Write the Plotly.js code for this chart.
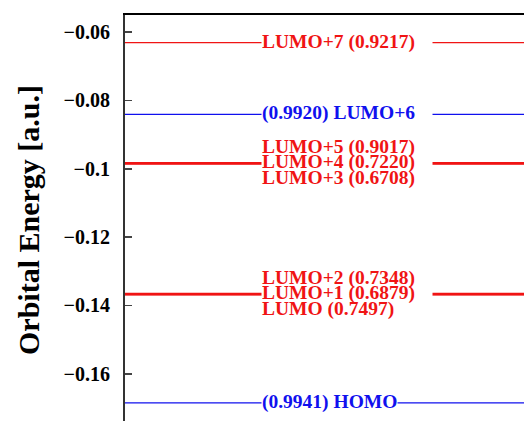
<!DOCTYPE html>
<html>
<head>
<meta charset="utf-8">
<script src="https://cdn.plot.ly/plotly-3.0.1.min.js"></script>
<style>
html,body{margin:0;padding:0;overflow:hidden;background:#fff;}
#chart{width:600px;height:425px;}
</style>
</head>
<body>
<div id="chart"></div>
<script>
// ---- data ----
const orbitals    = ['HOMO', 'LUMO', 'LUMO+1', 'LUMO+2', 'LUMO+3', 'LUMO+4', 'LUMO+5', 'LUMO+6', 'LUMO+7'];
const energies    = [-0.1685, -0.1368, -0.1367, -0.1366, -0.0985, -0.0984, -0.0983, -0.0841, -0.0631];
const occupations = ['0.9941', '0.7497', '0.6879', '0.7348', '0.6708', '0.7220', '0.9017', '0.9920', '0.9217'];
const spin        = ['beta', 'alpha', 'alpha', 'alpha', 'alpha', 'alpha', 'alpha', 'beta', 'alpha'];
const yTickVals   = [-0.16, -0.14, -0.12, -0.10, -0.08, -0.06];
const yTickText   = ['\u22120.16', '\u22120.14', '\u22120.12', '\u22120.1', '\u22120.08', '\u22120.06'];
const yTitle      = 'Orbital Energy [a.u.]';

// ---- build ----
const SERIF = 'Liberation Serif, Times New Roman, serif';
const colorOf = s => s === 'beta' ? '#1010ee' : '#f01414';

// group near-degenerate levels
const groups = [];
energies.forEach((e, i) => {
  let g = groups.find(g => Math.abs(energies[g[0]] - e) < 0.001);
  if (g) g.push(i); else groups.push([i]);
});

const traces = orbitals.map((name, i) => {
  const grp = groups.find(g => g.includes(i));
  return {
    type: 'scatter', mode: 'lines',
    x: [0, 1], y: [energies[i], energies[i]],
    line: {color: colorOf(spin[i]), width: grp.length > 1 ? 2 : 1.3},
    hoverinfo: 'skip', showlegend: false
  };
});

const LABEL_X = 0.2865;
const annotations = [];
// first: the label centred on each line (with white box masking the line)
groups.forEach(g => {
  const mid = g[Math.floor(g.length / 2)];
  g.forEach(i => {
    const txt = spin[i] === 'beta' ? '(' + occupations[i] + ') ' + orbitals[i]
                                   : orbitals[i] + ' (' + occupations[i] + ')';
    const k = g.indexOf(i) - g.indexOf(mid);
    const a = {
      xref: 'x', yref: 'y', x: LABEL_X, y: energies[mid],
      xanchor: 'left', yanchor: 'middle', align: 'left',
      text: txt, showarrow: false, borderpad: 0,
      yshift: 15.5 * k + 1,
      font: {family: SERIF, size: 19.5, weight: 'bold', color: colorOf(spin[i])}
    };
    if (i === mid) {
      a.bgcolor = '#ffffff';
      if (orbitals[i] !== 'HOMO') a.width = 170;
      annotations.unshift(a);
    } else {
      annotations.push(a);
    }
  });
});
// make sure line-masking boxes are drawn first
annotations.sort((a, b) => (b.bgcolor ? 1 : 0) - (a.bgcolor ? 1 : 0));

annotations.push({
  xref: 'paper', yref: 'paper', x: 0, y: 0.5, xshift: -97,
  xanchor: 'center', yanchor: 'middle', textangle: -90,
  text: yTitle, showarrow: false,
  font: {family: SERIF, size: 30, weight: 'bold', color: '#000'}
});

const layout = {
  width: 600, height: 425,
  margin: {l: 125, r: 0, t: 15, b: 0},
  paper_bgcolor: '#fff', plot_bgcolor: '#fff',
  showlegend: false,
  xaxis: {
    range: [0, 1], side: 'top', showgrid: false, zeroline: false,
    showticklabels: false, ticks: '', showline: true, linecolor: '#000', linewidth: 1.8
  },
  yaxis: {
    range: [-0.175, -0.055], showgrid: false, zeroline: false,
    tickvals: yTickVals, ticktext: yTickText,
    ticks: 'inside', ticklen: 7, tickwidth: 1.5, tickcolor: '#444',
    showline: true, linecolor: '#333', linewidth: 2,
    ticklabelstandoff: 9,
    tickfont: {family: SERIF, size: 20, weight: 'bold', color: '#000'}
  },
  annotations: annotations
};

Plotly.newPlot('chart', traces, layout, {displayModeBar: false, staticPlot: true});
</script>
</body>
</html>
